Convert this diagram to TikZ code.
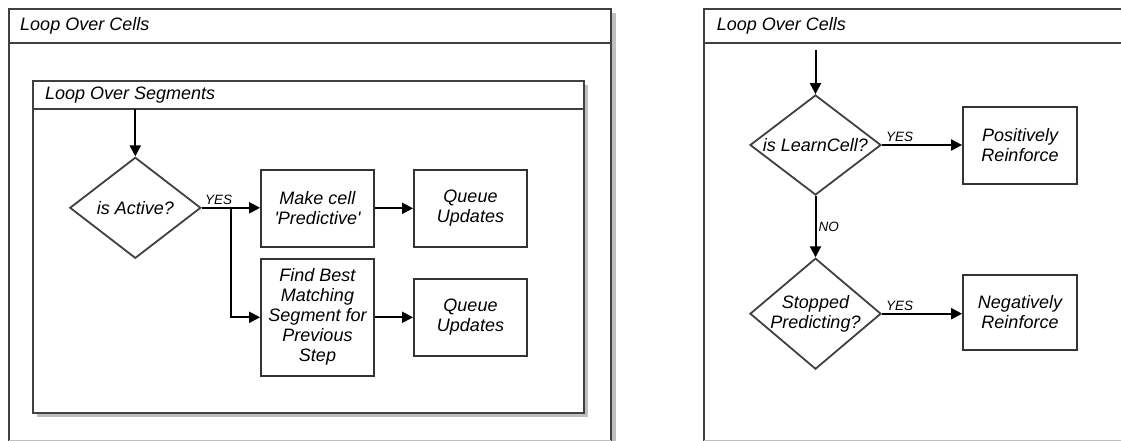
\documentclass[tikz,border=0pt]{standalone}
\usepackage{fontspec}
\setmainfont{Liberation Sans}
\usetikzlibrary{arrows.meta,shapes.geometric}

\tikzset{
  panel/.style={draw=black!75,line width=2pt},
  shadowfill/.style={fill=black!25,draw=none},
  txt/.style={font=\fontsize{18}{20}\selectfont\itshape,align=center},
  lbl/.style={font=\fontsize{13.5}{15}\selectfont\itshape,inner sep=2pt},
  box/.style={draw=black!80,line width=1.8pt,minimum width=113pt,minimum height=77pt,inner sep=0pt,txt},
  dec/.style={diamond,draw=black!75,line width=1.8pt,minimum width=131pt,minimum height=101pt,inner sep=0pt},
  flow/.style={->,line width=2pt},
}

\begin{document}
\begin{tikzpicture}[x=1pt,y=-1pt,line join=miter,>={Triangle[length=11pt,width=11pt]}]
  \useasboundingbox (0,0) rectangle (1121,441);

  % Left panel: loop over cells
  \fill[shadowfill] (612,13) rectangle (616,441);
  \draw[panel] (8.7,441) -- (8.7,9) -- (611,9) -- (611,441);
  \draw[panel] (8.7,43) -- (611,43);
  \draw[black!25,line width=1pt] (8.7,440) -- (611,440);
  \node[txt,anchor=west] (cellsA) at (16.7,26) {Loop Over Cells};

  % Inner panel: loop over segments
  \fill[shadowfill] (37,85) rectangle (588,417);
  \draw[panel,fill=white] (33,81) rectangle (584,413);
  \draw[panel] (33,109.5) -- (584,109.5);
  \node[txt,anchor=west] (segs) at (41.5,95) {Loop Over Segments};

  % Segment flow
  \coordinate (segtop) at (135.3,109.5);
  \node[dec,label={[txt]center:is Active?}] (act) at (135.3,207.8) {};
  \node[box] (mk) at (317.5,208.3) {Make cell\\\textquotesingle Predictive\textquotesingle};
  \node[box] (q1) at (470.5,208.3) {Queue\\Updates};
  \node[box,minimum height=117pt] (find) at (317.5,317.3) {Find Best\\Matching\\Segment for\\Previous\\Step};
  \node[box] (q2) at (470.5,317.3) {Queue\\Updates};
  \coordinate (br) at (231.3,208.3);

  \draw[flow] (segtop) -- (act.north);
  \draw[flow] (act.east) -- node[lbl,above,pos=0.29] {YES} (act.east -| mk.west);
  \draw[flow] (br) |- (find.west);
  \draw[flow] (mk) -- (q1);
  \draw[flow] (find) -- (q2);

  % Right panel: loop over cells
  \draw[panel] (704,441) -- (704,9) -- (1125,9);
  \draw[panel] (704,43) -- (1125,43);
  \draw[black!25,line width=1pt] (704,440) -- (1121,440);
  \node[txt,anchor=west] (cellsB) at (713.3,26) {Loop Over Cells};

  % Cell flow
  \coordinate (start) at (815.5,50);
  \node[dec,minimum height=100pt,label={[txt]center:is LearnCell?}] (learn) at (815.5,145) {};
  \node[dec,minimum height=111pt,label={[txt]center:{Stopped\\Predicting?}}] (stop) at (815.5,313.7) {};
  \node[box,minimum width=114pt] (pos) at (1020,145.5) {Positively\\Reinforce};
  \node[box,minimum width=114pt,minimum height=75pt] (neg) at (1020,312.5) {Negatively\\Reinforce};

  \draw[flow] (start) -- (learn.north);
  \draw[flow] (learn.east) -- node[lbl,above,pos=0.22] {YES} (learn.east -| pos.west);
  \draw[flow] (learn.south) -- node[lbl,right,pos=0.5] {NO} (stop.north);
  \draw[flow] (stop.east) -- node[lbl,above,pos=0.22] {YES} (stop.east -| neg.west);
\end{tikzpicture}
\end{document}
